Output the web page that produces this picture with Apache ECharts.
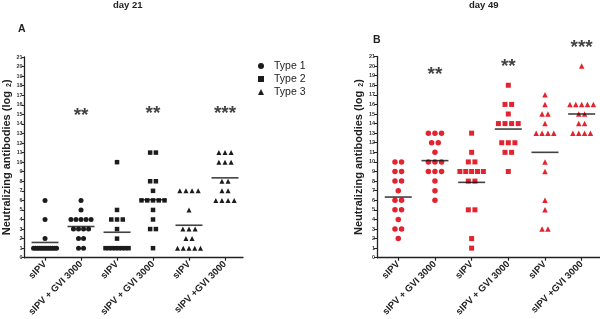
<!DOCTYPE html>
<html>
<head>
<meta charset="utf-8">
<script src="https://cdn.jsdelivr.net/npm/echarts@6/dist/echarts.min.js"></script>
<style>
  html, body { margin: 0; padding: 0; background: #fff; }
  #chart { width: 600px; height: 319px; }
</style>
</head>
<body>
<div id="chart"></div>
<script>
// groups on the x axis (same for both panels)
var categories = ["sIPV", "sIPV + GVI 3000", "sIPV", "sIPV + GVI 3000", "sIPV", "sIPV +GVI 3000"];
var legendNames = ["Type 1", "Type 2", "Type 3"];

// day 21 - one value per animal (log2 titre)
var d21Type1Sipv = [6, 4, 2, 1, 1, 1, 1, 1, 1, 1, 1, 1, 1, 1, 1];
var d21Type1Gvi = [6, 5, 4, 4, 4, 4, 4, 3, 3, 3, 3, 2, 2, 1, 1];
var d21Type2Sipv = [10, 5, 4, 4, 4, 3, 2, 1, 1, 1, 1, 1, 1, 1, 1];
var d21Type2Gvi = [11, 11, 8, 8, 7, 6, 6, 6, 6, 6, 5, 4, 3, 3, 1];
var d21Type3Sipv = [7, 7, 7, 7, 5, 3, 3, 3, 2, 2, 1, 1, 1, 1, 1];
var d21Type3Gvi = [11, 11, 11, 10, 10, 10, 8, 8, 7, 7, 6, 6, 6, 6];

// day 49
var d49Type1Sipv = [10, 10, 9, 9, 8, 8, 7, 6, 6, 5, 5, 4, 3, 3, 2];
var d49Type1Gvi = [13, 13, 13, 12, 12, 11, 10, 10, 10, 9, 9, 9, 8, 7, 6];
var d49Type2Sipv = [13, 11, 10, 10, 9, 9, 9, 9, 9, 8, 8, 5, 5, 2, 1];
var d49Type2Gvi = [18, 16, 16, 15, 14, 14, 14, 14, 12, 12, 12, 11, 11, 9];
var d49Type3Sipv = [17, 16, 15, 15, 14, 13, 13, 13, 13, 10, 9, 6, 5, 3, 3];
var d49Type3Gvi = [20, 16, 16, 16, 16, 16, 15, 15, 14, 14, 13, 13, 13, 13];

// significance marks: group index, text, height
var starIdxA = [1, 3, 5];
var starTextA = ["**", "**", "***"];
var starYA = [15.3, 15.5, 15.5];
var starIdxB = [1, 3, 5];
var starTextB = ["**", "**", "***"];
var starYB = [19.5, 20.3, 22.3];

var RED = "#e3232f";
var BLACK = "#1c1c1c";
var FONT = "Liberation Sans, Arial, sans-serif";

// spread equal values side by side, like the original dot plot
function spread(values, idx, step, maxW) {
  var counts = {};
  values.forEach(function (v) { counts[v] = (counts[v] || 0) + 1; });
  var out = [];
  Object.keys(counts).forEach(function (k) {
    var n = counts[k];
    var s = n > 1 ? Math.min(step, maxW / (n - 1)) : 0;
    for (var i = 0; i < n; i++) out.push([idx + (i - (n - 1) / 2) * s, +k]);
  });
  return out;
}
function mean(values) {
  return values.reduce(function (a, b) { return a + b; }, 0) / values.length;
}

var dom = document.getElementById("chart");
var myChart = echarts.init(dom, null, { renderer: "canvas" });

function xAxisFor(gridIndex, min, max) {
  return {
    type: "value", gridIndex: gridIndex, min: min, max: max,
    splitLine: { show: false },
    axisLine: { onZero: false, lineStyle: { color: "#222", width: 1.3 } },
    axisTick: { show: true, length: 3, customValues: [0, 1, 2, 3, 4, 5], lineStyle: { color: "#222", width: 1.2 } },
    axisLabel: {
      customValues: [0, 1, 2, 3, 4, 5],
      formatter: function (v) { return categories[v]; },
      rotate: 45, margin: 5, fontSize: 9.5, fontWeight: "bold", color: "#222", fontFamily: FONT
    }
  };
}
function yAxisFor(gridIndex) {
  return {
    type: "value", gridIndex: gridIndex, min: 0, max: 21, interval: 1,
    name: "Neutralizing antibodies (log {s|2})",
    nameLocation: "middle", nameGap: 12, nameRotate: 90,
    nameTextStyle: {
      fontSize: 11, fontWeight: "bold", color: "#222", fontFamily: FONT,
      padding: [0, 0, 0, 0],
      rich: { s: { fontSize: 7, fontWeight: "bold", color: "#222", padding: [5, 0, 0, 1] } }
    },
    splitLine: { show: false },
    axisLine: { show: true, onZero: false, lineStyle: { color: "#222", width: 1.3 } },
    axisTick: { show: true, length: 3, lineStyle: { color: "#222", width: 1 } },
    axisLabel: { fontSize: 5.5, fontWeight: "bold", margin: 2, color: "#333", fontFamily: FONT }
  };
}

function pointSeries(name, ax, symbol, size, color, groups, step) {
  var data = [];
  groups.forEach(function (g) { data = data.concat(spread(g[1], g[0], step, 0.64)); });
  return {
    name: name, type: "scatter", xAxisIndex: ax, yAxisIndex: ax,
    symbol: symbol, symbolSize: size, itemStyle: { color: color, opacity: 1 },
    data: data, silent: true, z: 2
  };
}
function meanSeries(ax, groups) {
  return {
    type: "scatter", xAxisIndex: ax, yAxisIndex: ax, symbol: "rect", symbolSize: [27, 1.6],
    itemStyle: { color: "#111" }, silent: true, z: 5,
    data: groups.map(function (g, i) { return [i, mean(g)]; })
  };
}
function starSeries(ax, idx, txt, ys) {
  return {
    type: "scatter", xAxisIndex: ax, yAxisIndex: ax, symbolSize: 1, clip: false,
    itemStyle: { color: "rgba(0,0,0,0)" }, silent: true, z: 6,
    label: {
      show: true, position: "inside", formatter: "{b}", offset: [0, 4],
      fontSize: 19, fontWeight: "bold", color: "#111", fontFamily: FONT
    },
    data: idx.map(function (x, i) { return { name: txt[i], value: [x, ys[i]] }; })
  };
}

var groupsA = [d21Type1Sipv, d21Type1Gvi, d21Type2Sipv, d21Type2Gvi, d21Type3Sipv, d21Type3Gvi];
var groupsB = [d49Type1Sipv, d49Type1Gvi, d49Type2Sipv, d49Type2Gvi, d49Type3Sipv, d49Type3Gvi];

var option = {
  animation: false,
  textStyle: { fontFamily: FONT },
  grid: [
    { left: 22, top: 57, width: 221, height: 204 },
    { left: 377, top: 56.5, width: 223, height: 203.5 }
  ],
  xAxis: [xAxisFor(0, -0.57, 5.5), xAxisFor(1, -0.58, 5.5)],
  yAxis: [yAxisFor(0), yAxisFor(1)],
  legend: {
    data: legendNames, orient: "vertical", left: 253, top: 55,
    itemWidth: 6, itemHeight: 6, itemGap: 1, selectedMode: false,
    textStyle: { fontSize: 10.5, color: "#222", lineHeight: 12, padding: [0, 0, 0, 5] }
  },
  graphic: [
    { type: "text", left: 113, top: 0, style: { text: "day 21", font: "bold 9.5px " + FONT, fill: "#222" } },
    { type: "text", left: 469, top: 0, style: { text: "day 49", font: "bold 9.5px " + FONT, fill: "#222" } },
    { type: "text", left: 18, top: 24, style: { text: "A", font: "bold 10.5px " + FONT, fill: "#222" } },
    { type: "text", left: 373, top: 35, style: { text: "B", font: "bold 10.5px " + FONT, fill: "#222" } }
  ],
  series: [
    pointSeries("Type 1", 0, "circle", 5, BLACK, [[0, d21Type1Sipv], [1, d21Type1Gvi]], 0.14),
    pointSeries("Type 2", 0, "rect", 4.5, BLACK, [[2, d21Type2Sipv], [3, d21Type2Gvi]], 0.16),
    pointSeries("Type 3", 0, "triangle", 5, BLACK, [[4, d21Type3Sipv], [5, d21Type3Gvi]], 0.17),
    meanSeries(0, groupsA),
    starSeries(0, starIdxA, starTextA, starYA),
    pointSeries("d49 Type 1", 1, "circle", 5.5, RED, [[0, d49Type1Sipv], [1, d49Type1Gvi]], 0.18),
    pointSeries("d49 Type 2", 1, "rect", 5, RED, [[2, d49Type2Sipv], [3, d49Type2Gvi]], 0.18),
    pointSeries("d49 Type 3", 1, "triangle", 5.5, RED, [[4, d49Type3Sipv], [5, d49Type3Gvi]], 0.16),
    meanSeries(1, groupsB),
    starSeries(1, starIdxB, starTextB, starYB)
  ]
};

myChart.setOption(option);
</script>
</body>
</html>
